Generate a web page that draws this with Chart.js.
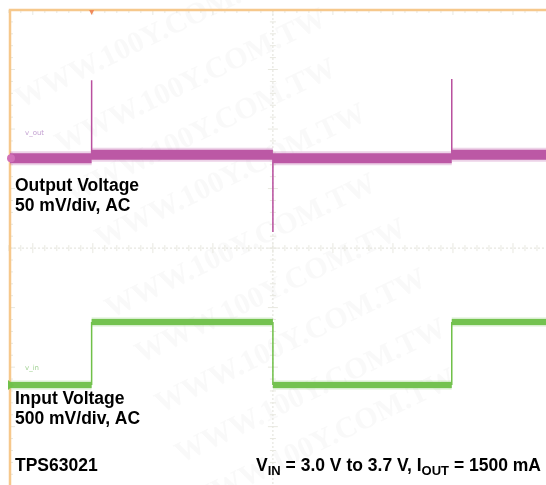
<!DOCTYPE html>
<html>
<head>
<meta charset="utf-8">
<script src="https://cdn.jsdelivr.net/npm/chart.js@4.4.1/dist/chart.umd.min.js"></script>
<style>
  html, body { margin: 0; padding: 0; background: #fff; overflow: hidden; }
  #wrap { width: 546px; height: 485px; }
</style>
</head>
<body>
<div id="wrap"><canvas id="scope" width="546" height="485"></canvas></div>
<script>
// time axis in divisions (0 = screen centre), amplitude in divisions
const outTime  = [-4.4, -3.02, null, -3.02, 0, null, 0, 2.98, null, 2.98, 4.6];
const outLevel = [1.51, 1.51, null, 1.57, 1.57, null, 1.51, 1.51, null, 1.57, 1.57];
// spikes on the output at each input step: [time, from, to]
const spikeTime = [-3.02, 0, 2.98];
const spikeFrom = [1.55, 1.55, 1.55];
const spikeTo   = [2.82, 0.27, 2.84];

const inTime  = [-4.4, -3.02, null, -3.02, 0, null, 0, 2.98, null, 2.98, 4.6];
const inLevel = [-2.30, -2.30, null, -1.24, -1.24, null, -2.30, -2.30, null, -1.24, -1.24];
const edgeTime = [-3.02, 0, 2.98];

const MAGENTA = '#b9509f';
const GREEN = '#70c049';

function pts(xs, ys) {
  return xs.map((x, i) => x === null ? { x: NaN, y: null } : { x: x, y: ys[i] });
}
function vsegs(xs, a, b) {
  let out = [];
  xs.forEach((x, i) => {
    out.push({ x: x, y: a[i] }, { x: x, y: b[i] }, { x: x, y: null });
  });
  return out;
}

const scopePlugin = {
  id: 'scopeScreen',
  beforeDatasetsDraw(chart) {
    const { ctx, chartArea: a, scales: { x, y } } = chart;
    ctx.save();
    // watermark
    ctx.fillStyle = 'rgba(150,150,150,0.06)';
    ctx.font = 'bold 30px "Liberation Serif", serif';
    const marks = [[150, 35], [190, 80], [200, 130], [230, 175], [240, 245], [270, 290], [290, 340], [310, 390], [320, 440]];
    marks.forEach(m => {
      ctx.save();
      ctx.translate(m[0], m[1]);
      ctx.rotate(-0.45);
      ctx.textAlign = 'center';
      ctx.fillText('WWW.100Y.COM.TW', 0, 10);
      ctx.restore();
    });

    // centre crosshair
    const cx = x.getPixelForValue(0), cy = y.getPixelForValue(0);
    ctx.strokeStyle = '#e0e0d8';
    ctx.lineWidth = 1;
    ctx.setLineDash([2, 2]);
    ctx.beginPath();
    ctx.moveTo(cx, a.top); ctx.lineTo(cx, a.bottom);
    ctx.moveTo(a.left, cy); ctx.lineTo(a.right, cy);
    ctx.stroke();
    ctx.setLineDash([]);
    // ticks
    ctx.strokeStyle = '#e8e8e0';
    ctx.beginPath();
    for (let t = -5; t <= 5; t += 0.2) {
      const px = x.getPixelForValue(t);
      const major = Math.abs(t - Math.round(t)) < 0.01;
      const len = major ? 5 : 3;
      ctx.moveTo(px, cy - len); ctx.lineTo(px, cy + len);
      ctx.moveTo(px, a.top); ctx.lineTo(px, a.top + len);
    }
    for (let t = -4; t <= 4; t += 0.2) {
      const py = y.getPixelForValue(t);
      const major = Math.abs(t - Math.round(t)) < 0.01;
      const len = major ? 5 : 3;
      ctx.moveTo(cx - len, py); ctx.lineTo(cx + len, py);
      ctx.moveTo(a.left, py); ctx.lineTo(a.left + len, py);
    }
    ctx.stroke();

    // orange screen border
    ctx.strokeStyle = '#f6c88c';
    ctx.lineWidth = 2.5;
    ctx.beginPath();
    ctx.moveTo(a.left, a.bottom); ctx.lineTo(a.left, a.top); ctx.lineTo(a.right, a.top);
    ctx.stroke();
    ctx.restore();
  },
  afterDatasetsDraw(chart) {
    const { ctx, chartArea: a, scales: { x, y } } = chart;
    ctx.save();
    // trigger marker
    const tx = x.getPixelForValue(-3.02);
    ctx.fillStyle = '#f08a5a';
    ctx.beginPath();
    ctx.moveTo(tx - 2.5, a.top); ctx.lineTo(tx + 2.5, a.top); ctx.lineTo(tx, a.top + 5);
    ctx.fill();
    // channel markers
    ctx.fillStyle = '#d070b8';
    ctx.beginPath();
    ctx.arc(a.left + 1, y.getPixelForValue(1.51), 4, 0, Math.PI * 2);
    ctx.fill();
    ctx.fillStyle = GREEN;
    const gy = y.getPixelForValue(-2.3);
    ctx.beginPath();
    ctx.moveTo(a.left - 2, gy - 5); ctx.lineTo(a.left + 4, gy); ctx.lineTo(a.left - 2, gy + 5);
    ctx.fill();
    // tiny channel names
    ctx.font = '7px "DejaVu Sans", sans-serif';
    ctx.fillStyle = 'rgba(170,120,190,0.7)';
    ctx.fillText('v_out', 25, 135);
    ctx.fillStyle = 'rgba(120,190,100,0.7)';
    ctx.fillText('v_in', 25, 370);

    // annotations
    ctx.fillStyle = '#000';
    const main = 'bold 17.5px "Liberation Sans", Arial, sans-serif';
    const sub = 'bold 13px "Liberation Sans", Arial, sans-serif';
    ctx.font = main;
    ctx.textAlign = 'left';
    ctx.fillText('Output Voltage', 15, 191);
    ctx.fillText('50 mV/div, AC', 15, 211);
    ctx.fillText('Input Voltage', 15, 404);
    ctx.fillText('500 mV/div, AC', 15, 424);
    ctx.fillText('TPS63021', 15, 471);

    // right condition text with subscripts
    const parts = [['V', main, 0], ['IN', sub, 4], [' = 3.0 V to 3.7 V, I', main, 0], ['OUT', sub, 4], [' = 1500 mA', main, 0]];
    let w = 0;
    parts.forEach(p => { ctx.font = p[1]; w += ctx.measureText(p[0]).width; });
    let px = 541 - w;
    parts.forEach(p => {
      ctx.font = p[1];
      ctx.fillText(p[0], px, 471 + p[2]);
      px += ctx.measureText(p[0]).width;
    });
    ctx.restore();
  }
};

new Chart(document.getElementById('scope'), {
  type: 'line',
  data: {
    datasets: [
      { label: 'Output halo', data: pts(outTime, outLevel), borderColor: 'rgba(195,110,180,0.3)', borderWidth: 14, pointRadius: 0, spanGaps: false, borderCapStyle: 'butt' },
      { label: 'Output', data: pts(outTime, outLevel), borderColor: MAGENTA, borderWidth: 10, pointRadius: 0, spanGaps: false, borderCapStyle: 'butt' },
      { label: 'Output spikes', data: vsegs(spikeTime, spikeFrom, spikeTo), borderColor: MAGENTA, borderWidth: 1.5, pointRadius: 0, spanGaps: false },
      { label: 'Input halo', data: pts(inTime, inLevel), borderColor: 'rgba(125,200,95,0.3)', borderWidth: 9, pointRadius: 0, spanGaps: false, borderCapStyle: 'butt' },
      { label: 'Input', data: pts(inTime, inLevel), borderColor: GREEN, borderWidth: 6, pointRadius: 0, spanGaps: false, borderCapStyle: 'butt' },
      { label: 'Input edges', data: vsegs(edgeTime, [-2.30, -1.24, -2.30], [-1.24, -2.30, -1.24]), borderColor: GREEN, borderWidth: 1.5, pointRadius: 0, spanGaps: false }
    ]
  },
  options: {
    responsive: false,
    animation: false,
    parsing: true,
    layout: { padding: { left: 10, top: 10, right: 0, bottom: 0 } },
    plugins: { legend: { display: false }, tooltip: { enabled: false } },
    scales: {
      x: { type: 'linear', min: -4.38, max: 4.55, display: false },
      y: { type: 'linear', min: -3.98, max: 4, display: false }
    }
  },
  plugins: [scopePlugin]
});
</script>
</body>
</html>
